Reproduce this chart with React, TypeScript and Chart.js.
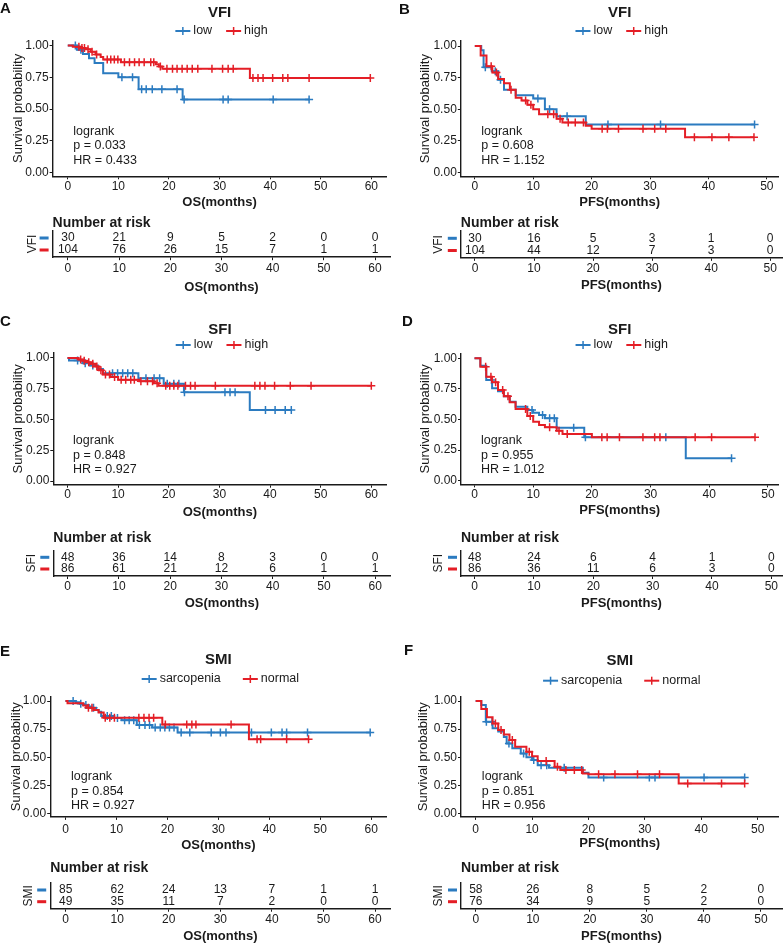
import React, { useEffect, useRef } from 'react';
import { Chart, registerables } from 'chart.js';
Chart.register(...registerables);

type Step = [number, number];

// ---------- tick labels ----------
const OS_TICKS = [0, 10, 20, 30, 40, 50, 60];
const PFS_TICKS = [0, 10, 20, 30, 40, 50];
const Y_TICKS = [0, 0.25, 0.5, 0.75, 1];
const VFI_GROUPS = ['low', 'high'];
const SFI_GROUPS = ['low', 'high'];
const SMI_GROUPS = ['sarcopenia', 'normal'];

// ---------- Panel A: VFI, OS ----------
const A_LOW: Step[] = [[0, 1], [1.8, 0.967], [3.0, 0.933], [4.2, 0.9], [5.3, 0.862], [7.0, 0.781], [10.0, 0.75], [14.0, 0.656], [22.7, 0.574], [47.7, 0.574]];
const A_LOW_CENS = [1.5, 2.6, 10.7, 12.8, 14.6, 15.5, 16.7, 18.6, 21.6, 23.0, 30.7, 31.7, 40.6, 47.7];
const A_HIGH: Step[] = [[0, 1], [1.0, 0.99], [2.5, 0.98], [3.5, 0.97], [4.5, 0.95], [5.5, 0.93], [6.5, 0.91], [7.0, 0.89], [10.5, 0.868], [17.4, 0.852], [18.0, 0.834], [18.7, 0.816], [36.0, 0.745], [59.8, 0.745]];
const A_HIGH_CENS = [2.2, 2.8, 3.3, 4.0, 4.8, 5.7, 7.8, 8.5, 9.2, 9.9, 11.2, 12.2, 13.2, 14.1, 15.1, 16.4, 17.0, 18.3, 19.6, 20.7, 21.6, 22.6, 23.6, 24.6, 25.7, 28.5, 30.6, 31.7, 32.7, 36.6, 37.6, 38.6, 40.5, 42.5, 43.5, 47.7, 59.8];
const A_RISK_LOW = [30, 21, 9, 5, 2, 0, 0];
const A_RISK_HIGH = [104, 76, 26, 15, 7, 1, 1];
const A_P = '0.033';
const A_HR = '0.433';

// ---------- Panel B: VFI, PFS ----------
const B_LOW: Step[] = [[0, 1], [1.1, 0.967], [1.5, 0.833], [2.9, 0.8], [4.0, 0.733], [5.0, 0.655], [7.0, 0.61], [10.0, 0.585], [12.0, 0.5], [14.0, 0.445], [19.0, 0.38], [47.9, 0.38]];
const B_LOW_CENS = [1.8, 3.5, 4.4, 10.8, 12.8, 15.8, 22.8, 31.8, 47.9];
const B_HIGH: Step[] = [[0, 1], [1.0, 0.925], [2.0, 0.84], [3.0, 0.79], [4.0, 0.74], [5.0, 0.705], [6.0, 0.655], [7.0, 0.59], [8.0, 0.57], [9.0, 0.535], [10.0, 0.5], [11.0, 0.46], [14.0, 0.425], [15.0, 0.395], [19.0, 0.37], [20.0, 0.345], [36.0, 0.278], [47.8, 0.278]];
const B_HIGH_CENS = [2.8, 3.7, 6.2, 8.7, 9.6, 12.5, 13.5, 14.6, 16.0, 17.2, 18.6, 21.8, 22.7, 24.6, 28.8, 30.8, 32.7, 37.6, 40.6, 43.5, 47.8];
const B_RISK_LOW = [30, 16, 5, 3, 1, 0];
const B_RISK_HIGH = [104, 44, 12, 7, 3, 0];
const B_P = '0.608';
const B_HR = '1.152';

// ---------- Panel C: SFI, OS ----------
const C_LOW: Step[] = [[0, 1], [0.3, 0.979], [3.0, 0.958], [4.5, 0.94], [6.0, 0.91], [7.0, 0.877], [14.0, 0.836], [19.0, 0.79], [23.0, 0.722], [36.0, 0.578], [44.2, 0.578]];
const C_LOW_CENS = [2.0, 3.5, 5.0, 8.9, 9.9, 10.9, 11.9, 12.9, 15.5, 17.1, 18.2, 19.7, 21.0, 22.0, 23.1, 31.1, 32.1, 33.1, 39.1, 41.0, 43.0, 44.2];
const C_HIGH: Step[] = [[0, 1], [2.2, 0.988], [3.0, 0.977], [3.8, 0.965], [4.6, 0.953], [5.5, 0.93], [6.2, 0.9], [7.0, 0.865], [8.5, 0.845], [10.0, 0.823], [14.2, 0.81], [17.0, 0.795], [18.0, 0.774], [60.0, 0.774]];
const C_HIGH_CENS = [2.6, 3.3, 4.2, 5.0, 5.8, 6.6, 7.5, 8.3, 9.3, 10.6, 11.5, 12.5, 13.2, 14.5, 15.8, 16.8, 17.7, 19.4, 20.2, 21.0, 21.8, 23.3, 24.3, 25.2, 29.2, 37.0, 38.0, 39.0, 40.9, 44.0, 48.1, 60.0];
const C_RISK_LOW = [48, 36, 14, 8, 3, 0, 0];
const C_RISK_HIGH = [86, 61, 21, 12, 6, 1, 1];
const C_P = '0.848';
const C_HR = '0.927';

// ---------- Panel D: SFI, PFS ----------
const D_LOW: Step[] = [[0, 1], [1.0, 0.94], [2.0, 0.823], [3.0, 0.755], [4.0, 0.73], [5.0, 0.69], [6.0, 0.646], [7.0, 0.605], [9.0, 0.578], [10.0, 0.555], [11.0, 0.537], [12.0, 0.51], [14.0, 0.433], [18.7, 0.354], [36.0, 0.183], [43.8, 0.183]];
const D_LOW_CENS = [2.9, 9.8, 11.6, 12.8, 13.6, 16.9, 18.9, 32.6, 43.8];
const D_HIGH: Step[] = [[0, 1], [1.0, 0.93], [2.0, 0.85], [3.0, 0.805], [4.0, 0.741], [5.0, 0.69], [6.0, 0.64], [7.0, 0.586], [9.0, 0.529], [10.0, 0.482], [11.0, 0.455], [12.0, 0.436], [14.0, 0.409], [15.0, 0.381], [20.0, 0.355], [47.8, 0.355]];
const D_HIGH_CENS = [1.9, 2.8, 3.6, 4.8, 5.7, 8.7, 9.5, 12.8, 14.4, 15.8, 21.7, 22.6, 24.7, 28.7, 30.7, 31.6, 37.6, 40.4, 47.8];
const D_RISK_LOW = [48, 24, 6, 4, 1, 0];
const D_RISK_HIGH = [86, 36, 11, 6, 3, 0];
const D_P = '0.955';
const D_HR = '1.012';

// ---------- Panel E: SMI, OS ----------
const E_LOW: Step[] = [[0, 1], [2.0, 0.988], [2.8, 0.976], [3.5, 0.964], [4.5, 0.952], [5.0, 0.94], [6.0, 0.92], [6.5, 0.905], [7.0, 0.866], [9.5, 0.85], [11.0, 0.83], [14.0, 0.786], [17.0, 0.765], [22.0, 0.72], [59.8, 0.72]];
const E_LOW_CENS = [1.5, 3.0, 4.0, 5.5, 8.2, 9.0, 10.2, 11.6, 12.5, 13.4, 14.5, 15.6, 16.5, 17.6, 18.6, 19.5, 20.4, 21.3, 22.7, 24.4, 28.6, 30.4, 31.5, 36.5, 40.4, 42.5, 43.4, 47.5, 59.8];
const E_HIGH: Step[] = [[0, 1], [0.4, 0.98], [3.5, 0.96], [4.2, 0.94], [5.5, 0.92], [6.5, 0.898], [7.5, 0.852], [19.0, 0.792], [36.0, 0.66], [47.7, 0.66]];
const E_HIGH_CENS = [4.5, 5.2, 7.8, 8.7, 9.6, 14.4, 15.4, 16.4, 17.3, 19.6, 23.8, 24.8, 25.6, 32.5, 37.6, 38.3, 43.4, 47.7];
const E_RISK_LOW = [85, 62, 24, 13, 7, 1, 1];
const E_RISK_HIGH = [49, 35, 11, 7, 2, 0, 0];
const E_P = '0.854';
const E_HR = '0.927';

// ---------- Panel F: SMI, PFS ----------
const F_LOW: Step[] = [[0, 1], [1.0, 0.965], [1.8, 0.816], [3.0, 0.757], [4.0, 0.73], [5.0, 0.68], [5.5, 0.623], [6.5, 0.58], [8.0, 0.534], [9.0, 0.5], [10.0, 0.475], [11.0, 0.43], [13.0, 0.406], [19.0, 0.362], [20.0, 0.32], [47.7, 0.32]];
const F_LOW_CENS = [1.9, 2.9, 5.9, 8.5, 10.3, 11.6, 12.6, 15.7, 22.7, 30.8, 31.8, 40.5, 47.7];
const F_HIGH: Step[] = [[0, 1], [1.0, 0.929], [2.0, 0.855], [3.0, 0.8], [4.0, 0.742], [5.0, 0.703], [6.0, 0.653], [7.0, 0.593], [9.0, 0.549], [10.0, 0.51], [11.0, 0.466], [14.0, 0.415], [15.0, 0.386], [19.0, 0.356], [20.0, 0.35], [36.0, 0.267], [47.7, 0.267]];
const F_HIGH_CENS = [3.5, 4.5, 6.5, 9.5, 12.5, 14.5, 16.0, 17.5, 18.8, 21.8, 24.7, 28.7, 32.6, 37.6, 43.6, 47.7];
const F_RISK_LOW = [58, 26, 8, 5, 2, 0];
const F_RISK_HIGH = [76, 34, 9, 5, 2, 0];
const F_P = '0.851';
const F_HR = '0.956';

// ---------- styling ----------
const FONT = '"Liberation Sans", Arial, Helvetica, sans-serif';
const BLUE = '#2B7BC0';
const RED = '#E41E26';
const INK = '#1a1a1a';
const ANNOT_T = 1.1;
const ANNOT_V = 0.325;
const Y_MIN = -0.03;
const Y_MAX = 1.04;

interface Geo {
  cl: number; cw: number; kmTop: number; kmBottom: number;
  aL: number; aR: number; y1: number; y0: number; xMin: number; xMax: number;
  titleY: number; legendY: number; legendGap: number; xTitleY: number; yTitleX: number; xTickY: number;
  riskBottom: number; headY: number; row1: number; row2: number; riskTickY: number; riskTitleY: number; groupX: number;
  letterX: number; letterTop: number;
}

interface Panel {
  letter: string; title: string; groups: string[]; xLabel: string; ticks: number[];
  low: Step[]; lowCens: number[]; high: Step[]; highCens: number[];
  riskLow: number[]; riskHigh: number[]; p: string; hr: string; geo: Geo;
}

const PANELS: Panel[] = [
  { letter: 'A', title: 'VFI', groups: VFI_GROUPS, xLabel: 'OS(months)', ticks: OS_TICKS, low: A_LOW, lowCens: A_LOW_CENS, high: A_HIGH, highCens: A_HIGH_CENS, riskLow: A_RISK_LOW, riskHigh: A_RISK_HIGH, p: A_P, hr: A_HR,
    geo: { cl: 0, cw: 392, kmTop: 0, kmBottom: 210, aL: 52.6, aR: 390.4, y1: 45.5, y0: 172.5, xMin: -3, xMax: 63, titleY: 13, legendY: 31, legendGap: 14, xTitleY: 202, yTitleX: 18, xTickY: 185,
      riskBottom: 296, headY: 223, row1: 238, row2: 250, riskTickY: 267.3, riskTitleY: 287, groupX: 32.7, letterX: 0, letterTop: 0 } },
  { letter: 'B', title: 'VFI', groups: VFI_GROUPS, xLabel: 'PFS(months)', ticks: PFS_TICKS, low: B_LOW, lowCens: B_LOW_CENS, high: B_HIGH, highCens: B_HIGH_CENS, riskLow: B_RISK_LOW, riskHigh: B_RISK_HIGH, p: B_P, hr: B_HR,
    geo: { cl: 392, cw: 392, kmTop: 0, kmBottom: 210, aL: 460.8, aR: 782, y1: 46, y0: 172.5, xMin: -2.4, xMax: 52, titleY: 13, legendY: 31, legendGap: 14, xTitleY: 202, yTitleX: 425, xTickY: 185,
      riskBottom: 296, headY: 223, row1: 238.3, row2: 250.5, riskTickY: 267.3, riskTitleY: 285, groupX: 438.7, letterX: 399, letterTop: 1 } },
  { letter: 'C', title: 'SFI', groups: SFI_GROUPS, xLabel: 'OS(months)', ticks: OS_TICKS, low: C_LOW, lowCens: C_LOW_CENS, high: C_HIGH, highCens: C_HIGH_CENS, riskLow: C_RISK_LOW, riskHigh: C_RISK_HIGH, p: C_P, hr: C_HR,
    geo: { cl: 0, cw: 392, kmTop: 310, kmBottom: 520, aL: 53.3, aR: 390.5, y1: 358, y0: 481, xMin: -2.8, xMax: 63, titleY: 330, legendY: 345, legendGap: 14, xTitleY: 512, yTitleX: 18.3, xTickY: 493.3,
      riskBottom: 612, headY: 538.3, row1: 557.3, row2: 569, riskTickY: 585, riskTitleY: 603.3, groupX: 31.7, letterX: 0, letterTop: 313 } },
  { letter: 'D', title: 'SFI', groups: SFI_GROUPS, xLabel: 'PFS(months)', ticks: PFS_TICKS, low: D_LOW, lowCens: D_LOW_CENS, high: D_HIGH, highCens: D_HIGH_CENS, riskLow: D_RISK_LOW, riskHigh: D_RISK_HIGH, p: D_P, hr: D_HR,
    geo: { cl: 392, cw: 392, kmTop: 310, kmBottom: 520, aL: 461, aR: 782, y1: 358.3, y0: 480.7, xMin: -2.3, xMax: 51.8, titleY: 330, legendY: 345, legendGap: 14, xTitleY: 510, yTitleX: 425.3, xTickY: 493.3,
      riskBottom: 612, headY: 538.3, row1: 557.3, row2: 569, riskTickY: 585, riskTitleY: 603.3, groupX: 438.7, letterX: 402, letterTop: 313 } },
  { letter: 'E', title: 'SMI', groups: SMI_GROUPS, xLabel: 'OS(months)', ticks: OS_TICKS, low: E_LOW, lowCens: E_LOW_CENS, high: E_HIGH, highCens: E_HIGH_CENS, riskLow: E_RISK_LOW, riskHigh: E_RISK_HIGH, p: E_P, hr: E_HR,
    geo: { cl: 0, cw: 392, kmTop: 630, kmBottom: 853, aL: 50.2, aR: 390.5, y1: 701, y0: 813.5, xMin: -3, xMax: 63, titleY: 660, legendY: 679, legendGap: 22, xTitleY: 845, yTitleX: 16.7, xTickY: 828.3,
      riskBottom: 944, headY: 867.7, row1: 890, row2: 901.7, riskTickY: 917.7, riskTitleY: 936.7, groupX: 28.3, letterX: 0, letterTop: 643 } },
  { letter: 'F', title: 'SMI', groups: SMI_GROUPS, xLabel: 'PFS(months)', ticks: PFS_TICKS, low: F_LOW, lowCens: F_LOW_CENS, high: F_HIGH, highCens: F_HIGH_CENS, riskLow: F_RISK_LOW, riskHigh: F_RISK_HIGH, p: F_P, hr: F_HR,
    geo: { cl: 392, cw: 392, kmTop: 630, kmBottom: 853, aL: 461, aR: 782, y1: 701, y0: 813.5, xMin: -2.6, xMax: 53.7, titleY: 660.7, legendY: 680.7, legendGap: 22, xTitleY: 843.3, yTitleX: 423.7, xTickY: 828.3,
      riskBottom: 944, headY: 867.7, row1: 890, row2: 901.7, riskTickY: 918, riskTitleY: 936, groupX: 438.7, letterX: 404, letterTop: 642 } },
];

function stepValue(steps: Step[], t: number): number {
  let v = steps[0][1];
  for (const [tt, s] of steps) {
    if (tt <= t) v = s; else break;
  }
  return v;
}

const axisCommon = () => ({
  grid: { display: true, drawOnChartArea: false, drawTicks: true, tickLength: 3, color: INK, lineWidth: 1 },
  border: { display: true, color: INK, width: 1.4 },
});

function xScale(p: Panel, areaBottom: number, canvasTop: number, canvasH: number, tickY: number, titleY: number) {
  const g = p.geo;
  const tickPad = tickY - areaBottom - 3 - 6 + 1.5;
  const titlePad = canvasTop + canvasH - titleY - 6.5;
  return {
    type: 'linear', min: g.xMin, max: g.xMax,
    afterBuildTicks: (s: any) => { s.ticks = p.ticks.map((v) => ({ value: v })); },
    afterFit: (s: any) => { s.height = canvasTop + canvasH - areaBottom; },
    ...axisCommon(),
    ticks: { font: { family: FONT, size: 12, lineHeight: 1 }, color: INK, padding: tickPad, maxRotation: 0, autoSkip: false, callback: (v: any) => String(v) },
    title: { display: true, text: p.xLabel, color: INK, font: { family: FONT, size: 13, weight: 'bold', lineHeight: 1 }, padding: { top: 0, bottom: titlePad } },
  };
}

function kmConfig(p: Panel): any {
  const g = p.geo;
  const k = (g.y0 - g.y1);
  const areaTop = g.y1 - (Y_MAX - 1) * k;
  const areaBottom = g.y0 - Y_MIN * k;
  const H = g.kmBottom - g.kmTop;
  const line = (steps: Step[], color: string, label: string) => ({
    label, data: steps.map(([x, y]) => ({ x, y })), borderColor: color, backgroundColor: color,
    borderWidth: 2, stepped: true, pointRadius: 0, fill: false, tension: 0,
  });
  const cens = (times: number[], steps: Step[], color: string) => ({
    label: '', data: times.map((t) => ({ x: t, y: stepValue(steps, t) })), borderColor: color, backgroundColor: color,
    showLine: false, pointStyle: 'cross', pointRadius: 4, pointBorderWidth: 1.5, borderWidth: 1.5,
  });
  const decor = {
    id: 'kmDecor',
    afterDraw(chart: any) {
      const ctx = chart.ctx;
      const ca = chart.chartArea;
      const cx = (ca.left + ca.right) / 2;
      ctx.save();
      ctx.fillStyle = INK;
      ctx.textBaseline = 'middle';
      ctx.textAlign = 'center';
      ctx.font = `bold 15px ${FONT}`;
      ctx.fillText(p.title, cx, g.titleY - g.kmTop);
      ctx.font = `12.5px ${FONT}`;
      const KEY = 15, GAP = 3;
      const w = p.groups.map((s) => ctx.measureText(s).width);
      const total = 2 * (KEY + GAP) + w[0] + w[1] + g.legendGap;
      let x = cx - total / 2 + 2;
      const ly = g.legendY - g.kmTop;
      [BLUE, RED].forEach((c, i) => {
        ctx.strokeStyle = c;
        ctx.lineWidth = 2;
        ctx.beginPath(); ctx.moveTo(x, ly); ctx.lineTo(x + KEY, ly); ctx.stroke();
        ctx.lineWidth = 1.5;
        ctx.beginPath(); ctx.moveTo(x + KEY / 2, ly - 4); ctx.lineTo(x + KEY / 2, ly + 4); ctx.stroke();
        ctx.fillStyle = INK;
        ctx.textAlign = 'left';
        ctx.fillText(p.groups[i], x + KEY + GAP, ly);
        x += KEY + GAP + w[i] + g.legendGap;
      });
      const ax = chart.scales.x.getPixelForValue(ANNOT_T);
      const ay = chart.scales.y.getPixelForValue(ANNOT_V);
      ctx.font = `12.5px ${FONT}`;
      ctx.textAlign = 'left';
      ['logrank', `p = ${p.p}`, `HR = ${p.hr}`].forEach((s, i) => ctx.fillText(s, ax, ay + i * 14.5));
      ctx.restore();
    },
  };
  return {
    type: 'line',
    data: {
      datasets: [
        cens(p.highCens, p.high, RED),
        line(p.high, RED, p.groups[1]),
        cens(p.lowCens, p.low, BLUE),
        line(p.low, BLUE, p.groups[0]),
      ],
    },
    options: {
      animation: false, responsive: false, maintainAspectRatio: false, events: [],
      layout: { padding: { left: 0, top: areaTop - g.kmTop, right: g.cl + g.cw - g.aR, bottom: 0 } },
      plugins: { legend: { display: false }, title: { display: false }, tooltip: { enabled: false } },
      scales: {
        x: xScale(p, areaBottom, g.kmTop, H, g.xTickY, g.xTitleY),
        y: {
          type: 'linear', min: Y_MIN, max: Y_MAX,
          afterBuildTicks: (s: any) => { s.ticks = Y_TICKS.map((v) => ({ value: v })); },
          afterFit: (s: any) => { s.width = g.aL - g.cl; },
          ...axisCommon(),
          ticks: { font: { family: FONT, size: 12, lineHeight: 1 }, color: INK, padding: 1, callback: (v: any) => Number(v).toFixed(2) },
          title: { display: true, text: 'Survival probability', color: INK, font: { family: FONT, size: 13, lineHeight: 1 }, padding: { top: g.yTitleX - g.cl - 6.5, bottom: 0 } },
        },
      },
    },
    plugins: [decor],
  };
}

function riskConfig(p: Panel): any {
  const g = p.geo;
  const step = g.row2 - g.row1;
  const areaTop = g.row1 - 0.6 * step;
  const areaBottom = g.row2 + 0.6 * step;
  const top = g.kmBottom;
  const H = g.riskBottom - top;
  const row = (counts: number[], yv: number, color: string, label: string) => ({
    label, data: p.ticks.map((t, i) => ({ x: t, y: yv, n: counts[i] })), borderColor: color, backgroundColor: color,
    showLine: false, pointRadius: 0,
  });
  const decor = {
    id: 'riskDecor',
    afterDraw(chart: any) {
      const ctx = chart.ctx;
      const ca = chart.chartArea;
      ctx.save();
      ctx.textBaseline = 'middle';
      ctx.fillStyle = INK;
      ctx.textAlign = 'left';
      ctx.font = `bold 14px ${FONT}`;
      ctx.fillText('Number at risk', ca.left, g.headY - top);
      ctx.font = `12px ${FONT}`;
      ctx.textAlign = 'center';
      chart.data.datasets.forEach((ds: any, di: number) => {
        const meta = chart.getDatasetMeta(di);
        meta.data.forEach((el: any, i: number) => {
          ctx.fillStyle = INK;
          ctx.fillText(String(ds.data[i].n), el.x, el.y);
        });
        const y = meta.data[0].y;
        ctx.fillStyle = ds.borderColor;
        ctx.fillRect(ca.left - 13, y - 1.5, 9, 3);
      });
      ctx.restore();
    },
  };
  return {
    type: 'line',
    data: { datasets: [row(p.riskLow, 2, BLUE, p.groups[0]), row(p.riskHigh, 1, RED, p.groups[1])] },
    options: {
      animation: false, responsive: false, maintainAspectRatio: false, events: [],
      layout: { padding: { left: 0, top: areaTop - top, right: g.cl + g.cw - g.aR, bottom: 0 } },
      plugins: { legend: { display: false }, title: { display: false }, tooltip: { enabled: false } },
      scales: {
        x: xScale(p, areaBottom, top, H, g.riskTickY, g.riskTitleY),
        y: {
          type: 'linear', min: 0.4, max: 2.6,
          afterFit: (s: any) => { s.width = g.aL - g.cl; },
          grid: { display: false },
          border: { display: true, color: INK, width: 1.4 },
          ticks: { display: false },
          title: { display: true, text: p.title, color: INK, font: { family: FONT, size: 12, lineHeight: 1 }, padding: { top: g.groupX - g.cl - 6, bottom: 0 } },
        },
      },
    },
    plugins: [decor],
  };
}

function ChartCanvas({ left, top, width, height, make }: { left: number; top: number; width: number; height: number; make: () => any }) {
  const ref = useRef<HTMLCanvasElement>(null);
  useEffect(() => {
    const chart = new Chart(ref.current as HTMLCanvasElement, make());
    return () => chart.destroy();
  }, []);
  return <canvas ref={ref} width={width} height={height} style={{ position: 'absolute', left, top, width, height }} />;
}

export default function App() {
  useEffect(() => {
    document.body.style.overflow = 'hidden';
  }, []);
  return (
    <div style={{ position: 'absolute', left: 0, top: 0, width: 784, height: 944, overflow: 'hidden', background: '#fff', fontFamily: FONT }}>
      {PANELS.map((p) => {
        const g = p.geo;
        return (
          <React.Fragment key={p.letter}>
            <ChartCanvas left={g.cl} top={g.kmTop} width={g.cw} height={g.kmBottom - g.kmTop} make={() => kmConfig(p)} />
            <ChartCanvas left={g.cl} top={g.kmBottom} width={g.cw} height={g.riskBottom - g.kmBottom} make={() => riskConfig(p)} />
            <div style={{ position: 'absolute', left: g.letterX, top: g.letterTop, fontSize: 15, lineHeight: '15px', fontWeight: 'bold', color: '#111' }}>{p.letter}</div>
          </React.Fragment>
        );
      })}
    </div>
  );
}
